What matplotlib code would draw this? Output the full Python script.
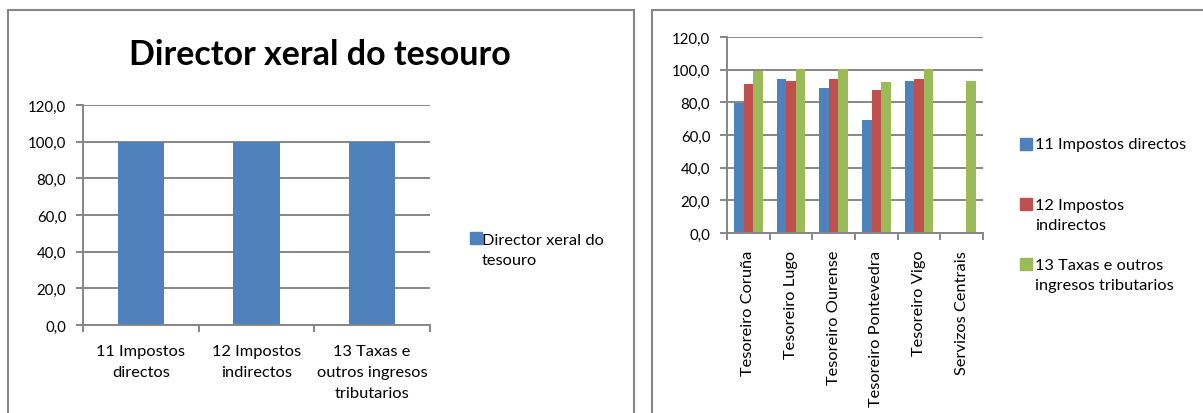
import numpy as np
import matplotlib
matplotlib.use("Agg")
import matplotlib.pyplot as plt
from matplotlib.patches import Rectangle

plt.rcParams['font.family'] = ['Lato', 'DejaVu Sans']

# left chart: Director xeral do tesouro
left_title = "Director xeral do tesouro"
left_categories = ["11 Impostos\ndirectos", "12 Impostos\nindirectos",
                   "13 Taxas e\noutros ingresos\ntributarios"]
left_values = [100.0, 100.0, 100.0]
left_series = "Director xeral do\ntesouro"

# right chart: tesoureiros
right_categories = ["Tesoreiro Coruña", "Tesoreiro Lugo", "Tesoreiro Ourense",
                    "Tesoreiro Pontevedra", "Tesoreiro Vigo", "Servizos Centrais"]
series_names = ["11 Impostos directos", "12 Impostos\nindirectos",
                "13 Taxas e outros\ningresos tributarios"]
directos = [79.6, 94.5, 88.5, 69.4, 93.2, np.nan]
indirectos = [91.0, 93.2, 94.5, 87.3, 94.5, np.nan]
taxas = [99.4, 100.4, 100.4, 92.2, 100.4, 93.2]

yticks = [0, 20, 40, 60, 80, 100, 120]

colors = ["#4F81BD", "#C0504D", "#9BBB59"]
grey = "#868686"
fs = 11.8
ls = 1.6

W, H = 1203, 414
fig = plt.figure(figsize=(W / 100, H / 100), dpi=100)


# helper to place things in pixel coords (from top-left)
def px_axes(x0, y0, x1, y1):
    return fig.add_axes([x0 / W, 1 - y1 / H, (x1 - x0) / W, (y1 - y0) / H])


def style(ax, n):
    ax.set_ylim(0, 120)
    ax.set_xlim(-0.5, n - 0.5)
    ax.set_yticks(yticks)
    ax.set_yticklabels([f"{v:.1f}".replace(".", ",") for v in yticks])
    ax.yaxis.grid(True, color=grey, lw=1.4)
    ax.set_axisbelow(True)
    for s in ["top", "right"]:
        ax.spines[s].set_visible(False)
    for s in ["left", "bottom"]:
        ax.spines[s].set_color(grey)
        ax.spines[s].set_linewidth(1.4)
    ax.set_xticks(np.arange(n + 1) - 0.5, minor=True)
    ax.tick_params(axis='x', which='major', length=0)
    ax.tick_params(axis='x', which='minor', length=5, color=grey, width=1.4)
    ax.tick_params(axis='y', length=5, color=grey, width=1.4, labelsize=10.8, pad=7)


# chart frames
for x0, x1 in [(8, 634), (652, 1215)]:
    fig.add_artist(Rectangle((x0 / W, -0.1), (x1 - x0) / W, 1.1 - 11 / H,
                             transform=fig.transFigure, fill=False,
                             edgecolor=grey, lw=1.5))

# left chart
ax1 = px_axes(83, 106, 430, 326)
x = np.arange(len(left_categories))
ax1.bar(x, left_values, width=0.4, color=colors[0], zorder=2)
style(ax1, len(left_categories))
ax1.set_xticks(x)
ax1.set_xticklabels(left_categories, fontsize=fs, linespacing=ls)
ax1.tick_params(axis='x', which='major', pad=14)
fig.text(320 / W, 1 - 55 / H, left_title, fontsize=24.5, weight='bold',
         ha='center', va='center')
fig.add_artist(Rectangle((470 / W, 1 - 245 / H), 12 / W, 12 / H,
                         transform=fig.transFigure, color=colors[0]))
fig.text(482 / W, 1 - 251 / H, left_series, fontsize=fs, va='center',
         linespacing=ls)

# right chart
ax2 = px_axes(727, 38, 983, 234)
x = np.arange(len(right_categories))
w = 1 / 4.5
for i, vals in enumerate([directos, indirectos, taxas]):
    ax2.bar(x + (i - 1) * w, vals, width=w, color=colors[i], zorder=2)
style(ax2, len(right_categories))
ax2.set_xticks(x)
ax2.set_xticklabels(right_categories, rotation=90, fontsize=fs)
ax2.tick_params(axis='x', which='major', pad=12)

leg_y = [145, 205, 265]
for i, name in enumerate(series_names):
    yc = leg_y[i]
    fig.add_artist(Rectangle((1020 / W, 1 - (yc + 6) / H), 12 / W, 12 / H,
                             transform=fig.transFigure, color=colors[i]))
    nl = name.count("\n")
    fig.text(1035 / W, 1 - (yc + nl * 22 / 2) / H, name, fontsize=fs,
             va='center', linespacing=ls)

fig.savefig("out.png", dpi=100)
